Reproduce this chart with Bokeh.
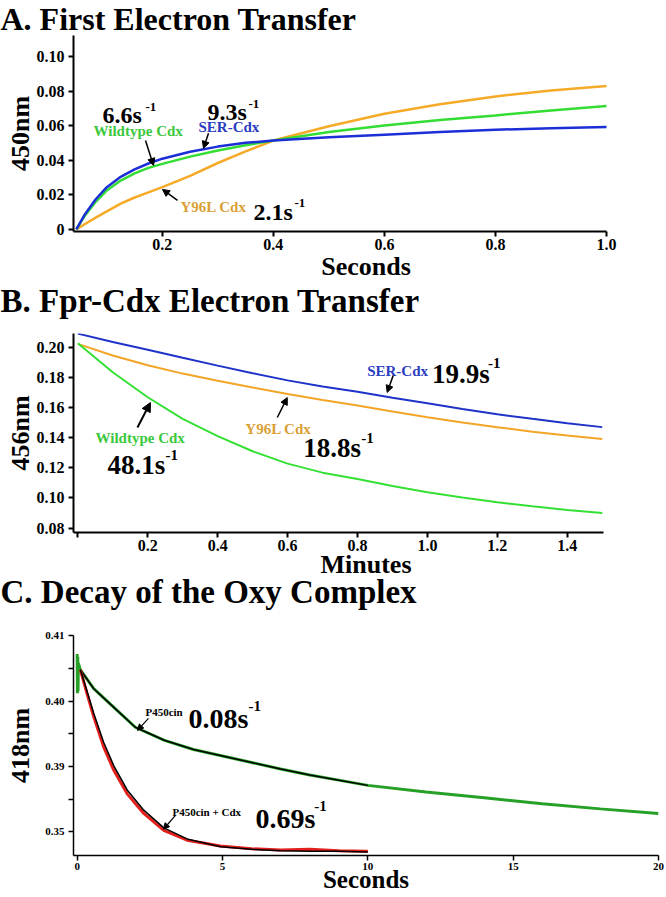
from bokeh.plotting import figure
from bokeh.layouts import column
from bokeh.models import Label, Arrow, NormalHead, FixedTicker, Range1d, Title
from bokeh.embed import file_html
from bokeh.resources import INLINE

SERIF = "Liberation Serif"

# ---------------- Panel A: First Electron Transfer (450 nm vs seconds)
a_time = [0.045, 0.06, 0.08, 0.10, 0.125, 0.15, 0.175, 0.2, 0.25, 0.3, 0.35, 0.4,
          0.5, 0.6, 0.7, 0.8, 0.9, 1.0]
a_ser = [0, 0.0085, 0.0175, 0.0245, 0.0305, 0.0348, 0.0382, 0.041, 0.045, 0.048, 0.0502,
         0.0515, 0.0534, 0.0549, 0.0564, 0.0578, 0.0586, 0.0593]
a_wt = [0, 0.0078, 0.0160, 0.0226, 0.0283, 0.0325, 0.0357, 0.038, 0.0422, 0.0458, 0.0488,
        0.0515, 0.0565, 0.0603, 0.0634, 0.0661, 0.069, 0.0715]
a_y96l = [0, 0.003, 0.0068, 0.0105, 0.015, 0.0185, 0.0215, 0.0245, 0.031, 0.0385, 0.0452,
          0.0515, 0.0598, 0.0671, 0.0725, 0.0771, 0.0805, 0.0831]
a_xticks = [0.2, 0.4, 0.6, 0.8, 1.0]
a_xlabels = ["0.2", "0.4", "0.6", "0.8", "1.0"]
a_yticks = [0, 0.02, 0.04, 0.06, 0.08, 0.10]
a_ylabels = ["0", "0.02", "0.04", "0.06", "0.08", "0.10"]

# ---------------- Panel B: Fpr-Cdx Electron Transfer (456 nm vs minutes)
b_time = [0, 0.1, 0.2, 0.3, 0.4, 0.5, 0.6, 0.7, 0.8, 0.9, 1.0, 1.1, 1.2, 1.3, 1.4, 1.5]
b_ser = [0.209, 0.2035, 0.1983, 0.1930, 0.1878, 0.1828, 0.1780, 0.1740, 0.1705, 0.1665,
         0.1628, 0.1590, 0.1555, 0.1525, 0.1496, 0.1470]
b_y96l = [0.2022, 0.1945, 0.1880, 0.1825, 0.1778, 0.1733, 0.1690, 0.1650, 0.1613, 0.1573,
          0.1536, 0.1500, 0.1469, 0.1440, 0.1414, 0.1392]
b_wt = [0.2026, 0.1834, 0.1668, 0.1525, 0.1410, 0.1310, 0.1228, 0.1168, 0.1126, 0.1080,
        0.1038, 0.1003, 0.0971, 0.0945, 0.0921, 0.0901]
b_xticks = [0, 0.2, 0.4, 0.6, 0.8, 1.0, 1.2, 1.4]
b_xlabels = ["", "0.2", "0.4", "0.6", "0.8", "1.0", "1.2", "1.4"]
b_yticks = [0.08, 0.10, 0.12, 0.14, 0.16, 0.18, 0.20]
b_ylabels = ["0.08", "0.10", "0.12", "0.14", "0.16", "0.18", "0.20"]

# ---------------- Panel C: Decay of the Oxy Complex (418 nm vs seconds)
c_time_p450 = [0.0, 0.01, 0.02, 0.03, 0.04, 0.11, 0.57, 1.15, 2.0, 3.0, 4.0, 5.0, 6.0, 7.0,
               8.0, 9.0, 10.0, 12.0, 14.0, 16.0, 18.0, 20.0]
c_p450 = [0.4072, 0.4012, 0.4068, 0.4015, 0.4058, 0.4048, 0.4019, 0.3995, 0.3960, 0.3940,
          0.3926, 0.3916, 0.3906, 0.3896, 0.3887, 0.3879, 0.3871, 0.3861, 0.3852, 0.3843,
          0.3835, 0.3828]
c_time_p450_fit = [0.11, 0.57, 1.15, 2.0, 3.0, 4.0, 5.0, 6.0, 7.0, 8.0, 9.0, 10.0]
c_p450_fit = [0.4048, 0.4019, 0.3995, 0.3960, 0.3940, 0.3926, 0.3916, 0.3906, 0.3896,
              0.3887, 0.3879, 0.3871]
c_time_cdx = [0.11, 0.34, 0.57, 0.91, 1.26, 1.72, 2.29, 2.98, 3.78, 4.93, 6.0, 7.0, 8.0,
              9.0, 10.0]
c_cdx = [0.4048, 0.4011, 0.3976, 0.3930, 0.3894, 0.3858, 0.3828, 0.3802, 0.3787, 0.3778,
         0.3774, 0.3772, 0.3773, 0.3771, 0.3770]
c_cdx_fit = [0.4048, 0.4015, 0.3981, 0.3937, 0.3901, 0.3864, 0.3833, 0.3806, 0.3789,
             0.3777, 0.3773, 0.3771, 0.3770, 0.3770, 0.3769]
c_xticks = [0, 5, 10, 15, 20]
c_xlabels = ["0", "5", "10", "15", "20"]
c_yticks = [0.38, 0.385, 0.39, 0.395, 0.40, 0.405, 0.41]
c_ylabels = ["0.35", "", "0.39", "", "0.40", "", "0.41"]

TITLE_A = "A. First Electron Transfer"
TITLE_B = "B. Fpr-Cdx Electron Transfer"
TITLE_C = "C.  Decay of the Oxy Complex"

LEFT, RIGHT = 73, 8


def style_title(t, size, standoff, valign):
    t.text_font = SERIF
    t.text_font_style = "bold"
    t.text_font_size = f"{size}px"
    t.text_color = "black"
    t.align = "left"
    t.vertical_align = valign
    t.offset = -LEFT
    t.standoff = standoff


def make_fig(h, xr, yr, xbounds, top, bottom, xt, xl, yt, yl, tick_size, lw,
             xlabel, xlabel_size, xlabel_standoff, ylabel, ylabel_standoff):
    p = figure(width=666, height=h, x_range=Range1d(*xr), y_range=Range1d(*yr),
               output_backend="svg", toolbar_location=None,
               min_border_left=LEFT, min_border_right=RIGHT,
               min_border_top=top, min_border_bottom=bottom)
    p.xgrid.visible = False
    p.ygrid.visible = False
    p.outline_line_color = None
    p.background_fill_color = "white"
    p.border_fill_color = "white"
    p.xaxis.ticker = FixedTicker(ticks=xt)
    p.xaxis.major_label_overrides = dict(zip(xt, xl))
    p.xaxis.bounds = xbounds
    p.yaxis.ticker = FixedTicker(ticks=yt)
    p.yaxis.major_label_overrides = dict(zip(yt, yl))
    for ax in (p.xaxis, p.yaxis):
        ax.axis_line_width = lw
        ax.axis_line_color = "black"
        ax.major_tick_line_width = lw
        ax.major_tick_line_color = "black"
        ax.major_tick_in = 0
        ax.major_tick_out = 5
        ax.minor_tick_line_color = None
        ax.major_label_text_font = SERIF
        ax.major_label_text_font_style = "bold"
        ax.major_label_text_font_size = f"{tick_size}px"
        ax.major_label_text_color = "black"
        ax.axis_label_text_font = SERIF
        ax.axis_label_text_font_style = "bold"
        ax.axis_label_text_color = "black"
    p.xaxis.major_label_standoff = 2
    p.yaxis.major_label_standoff = 4
    p.xaxis.axis_label = xlabel
    p.xaxis.axis_label_text_font_size = f"{xlabel_size}px"
    p.xaxis.axis_label_standoff = xlabel_standoff
    p.yaxis.axis_label = ylabel
    p.yaxis.axis_label_text_font_size = "26px"
    p.yaxis.axis_label_standoff = ylabel_standoff
    return p


def label(p, x, y, text, size, color="black", style="bold"):
    p.add_layout(Label(x=x, y=y, text=text, text_font=SERIF, text_font_size=f"{size}px",
                       text_font_style=style, text_color=color, text_align="left",
                       text_baseline="alphabetic"))


def arrow(p, x0, y0, x1, y1, lw=1.5, size=7):
    p.add_layout(Arrow(end=NormalHead(size=size, fill_color="black", line_color="black",
                                      line_width=1),
                       x_start=x0, y_start=y0, x_end=x1, y_end=y1,
                       line_color="black", line_width=lw))


# ---------- Panel A  (frame: x 73..658, y 35..231); panel B's heading sits below it
pa = make_fig(323, (0.04, 1.0937), (-0.0012, 0.1124), (0.04, 1.0), 35, 92,
              a_xticks, a_xlabels, a_yticks, a_ylabels, 16, 2,
              "Seconds", 26, -1, "450nm", -1)
pa.title.text = TITLE_A
style_title(pa.title, 32, -3, "bottom")
title_b = Title(text=TITLE_B)
style_title(title_b, 33, -1, "top")
pa.add_layout(title_b, "below")
pa.line(a_time, a_y96l, line_color="#f5aa28", line_width=2.5)
pa.line(a_time, a_wt, line_color="#33dd33", line_width=2.5)
pa.line(a_time, a_ser, line_color="#1c2ed6", line_width=2.5)
label(pa, 0.0922, 0.0661, "6.6s", 24)
label(pa, 0.1697, 0.0708, "-1", 13)
label(pa, 0.076, 0.0568, "Wildtype Cdx", 15, color="#3cc83c")
label(pa, 0.2813, 0.0679, "9.3s", 24)
label(pa, 0.3552, 0.0725, "-1", 13)
label(pa, 0.2651, 0.0591, "SER-Cdx", 15, color="#2a3cc0")
label(pa, 0.2327, 0.01275, "Y96L Cdx", 15, color="#d9a035")
label(pa, 0.3642, 0.00986, "2.1s", 24)
label(pa, 0.4380, 0.01508, "-1", 13)
arrow(pa, 0.1697, 0.0516, 0.1841, 0.0371)
arrow(pa, 0.2832, 0.0557, 0.2741, 0.0470)
arrow(pa, 0.2273, 0.0168, 0.2003, 0.0232)

# ---------- Panel B  (frame: x 73..658, y 333..532 in page); panel C's heading below it
pb = make_fig(291, (-0.0123, 1.6609), (0.0771, 0.2091), (-0.0123, 1.5049), 10, 82,
              b_xticks, b_xlabels, b_yticks, b_ylabels, 16, 2,
              "Minutes", 26, -4, "456nm", -1)
title_c = Title(text=TITLE_C)
style_title(title_c, 33, -15, "top")
pb.add_layout(title_c, "below")
pb.line(b_time, b_ser, line_color="#1f33c8", line_width=2)
pb.line(b_time, b_y96l, line_color="#f2a526", line_width=2)
pb.line(b_time, b_wt, line_color="#35e035", line_width=2)
label(pb, 0.0506, 0.13946, "Wildtype Cdx", 15, color="#3cc83c")
label(pb, 0.0849, 0.12155, "48.1s", 27)
label(pb, 0.2506, 0.12819, "-1", 15)
label(pb, 0.4791, 0.14543, "Y96L Cdx", 15, color="#d9a035")
label(pb, 0.6449, 0.13283, "18.8s", 27)
label(pb, 0.8106, 0.13946, "-1", 15)
label(pb, 0.8277, 0.18455, "SER-Cdx", 15, color="#2a3cc0")
label(pb, 1.0134, 0.18256, "19.9s", 27)
label(pb, 1.1734, 0.18986, "-1", 15)
arrow(pb, 0.1706, 0.1467, 0.2077, 0.1633, lw=2, size=9)
arrow(pb, 0.5706, 0.1534, 0.5991, 0.1666, lw=1.5, size=7)
arrow(pb, 0.902, 0.1812, 0.8849, 0.1700, lw=1.5, size=7)

# ---------- Panel C  (frame: x 73..658, y 635..855 in page)
pc = make_fig(283, (-0.127, 20.0), (0.37636, 0.41005), (-0.127, 20.0), 21, 42,
              c_xticks, c_xlabels, c_yticks, c_ylabels, 11, 1.5,
              "Seconds", 25, -7, "418nm", 7)
pc.line(c_time_p450, c_p450, line_color="#27a027", line_width=3)
pc.line(c_time_p450_fit, c_p450_fit, line_color="black", line_width=1.5)
pc.line(c_time_cdx, c_cdx, line_color="#e3201c", line_width=3)
pc.line(c_time_cdx, c_cdx_fit, line_color="black", line_width=1.5)
label(pc, 2.349, 0.39827, "P450cin", 11)
label(pc, 3.827, 0.39735, "0.08s", 28)
label(pc, 5.891, 0.39919, "-1", 15)
label(pc, 3.277, 0.38296, "P450cin + Cdx", 11)
label(pc, 6.131, 0.38206, "0.69s", 28)
label(pc, 8.160, 0.38390, "-1", 15)
arrow(pc, 2.452, 0.39735, 2.074, 0.39552, lw=1.2, size=6)
arrow(pc, 3.380, 0.38252, 2.968, 0.38038, lw=1.2, size=6)

layout = column(pa, pb, pc, spacing=0)

open("out.html", "w").write(file_html(layout, INLINE))
